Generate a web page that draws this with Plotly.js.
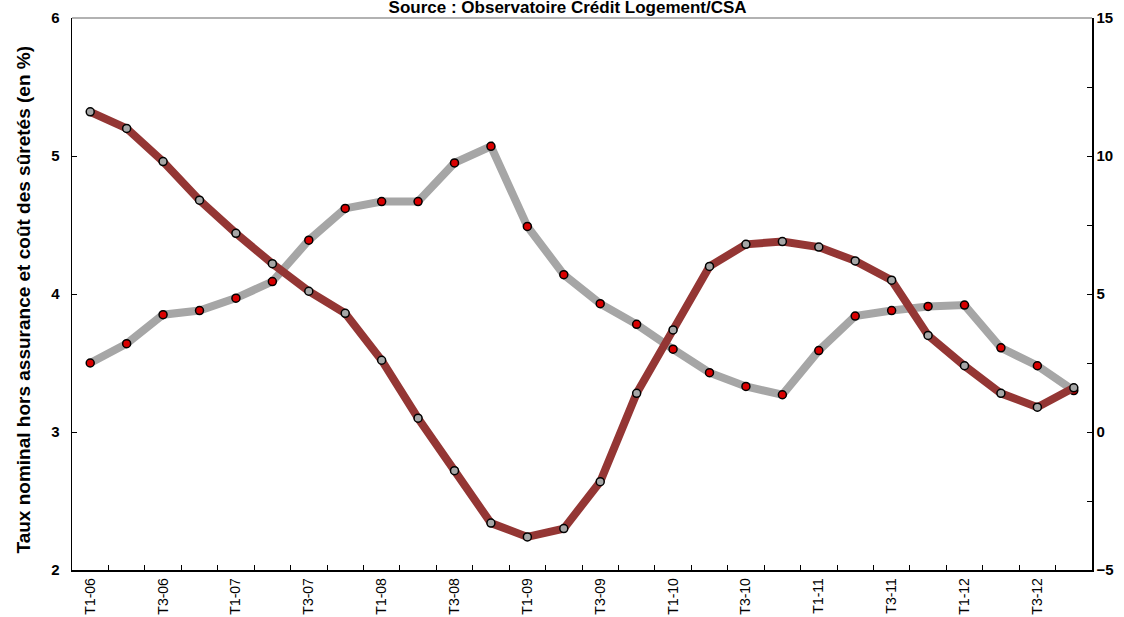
<!DOCTYPE html>
<html>
<head>
<meta charset="utf-8">
<script src="https://cdn.plot.ly/plotly-3.0.1.min.js"></script>
<style>
  html, body { margin: 0; padding: 0; background: #fff; }
  #chart { width: 1124px; height: 617px; }
</style>
</head>
<body>
<div id="chart"></div>
<script>
// Quarterly periods, T1-06 .. T4-12
const quarters = [
  'T1-06','T2-06','T3-06','T4-06',
  'T1-07','T2-07','T3-07','T4-07',
  'T1-08','T2-08','T3-08','T4-08',
  'T1-09','T2-09','T3-09','T4-09',
  'T1-10','T2-10','T3-10','T4-10',
  'T1-11','T2-11','T3-11','T4-11',
  'T1-12','T2-12','T3-12','T4-12'
];

// Only every other quarter carries a visible label
const tickLabels = quarters.map((q, i) => (i % 2 === 0 ? q : ''));

// Nominal rate excluding insurance and guarantee costs (left axis, %)
const tauxNominal = [
  3.50, 3.64, 3.85, 3.88,
  3.97, 4.09, 4.39, 4.62,
  4.67, 4.67, 4.95, 5.07,
  4.49, 4.14, 3.93, 3.78,
  3.60, 3.43, 3.33, 3.27,
  3.59, 3.84, 3.88, 3.91,
  3.92, 3.61, 3.48, 3.30
];

// Second series (right axis)
const serieDroite = [
  11.6, 11.0, 9.8, 8.4,
  7.2, 6.1, 5.1, 4.3,
  2.6, 0.5, -1.4, -3.3,
  -3.8, -3.5, -1.8, 1.4,
  3.7, 6.0, 6.8, 6.9,
  6.7, 6.2, 5.5, 3.5,
  2.4, 1.4, 0.9, 1.6
];

const yTitle = 'Taux nominal hors assurance et coût des sûretés (en %)';

const traces = [
  {
    x: quarters, y: tauxNominal, type: 'scatter', mode: 'lines+markers',
    yaxis: 'y',
    line: { color: '#a6a6a6', width: 8 },
    marker: { size: 8, color: '#d90000', line: { color: '#000', width: 1.5 } },
    hoverinfo: 'x+y'
  },
  {
    x: quarters, y: serieDroite, type: 'scatter', mode: 'lines+markers',
    yaxis: 'y2',
    line: { color: '#943634', width: 8 },
    marker: { size: 8, color: '#a6a6a6', line: { color: '#000', width: 1.5 } },
    hoverinfo: 'x+y'
  }
];

const tickFontBold = { family: 'Liberation Sans Narrow, Liberation Sans, Arial, sans-serif', size: 15, color: '#000', weight: 'bold' };

const layout = {
  width: 1124, height: 617,
  margin: { l: 72, r: 32, t: 18, b: 47 },
  paper_bgcolor: '#fff', plot_bgcolor: '#fff',
  showlegend: false,
  title: {
    text: '<b>Source : Observatoire Crédit Logement/CSA</b>',
    font: { family: 'Liberation Sans, Arial, sans-serif', size: 17, color: '#000' },
    x: 0.505, xref: 'container', xanchor: 'center',
    y: 0.999, yref: 'container', yanchor: 'top'
  },
  xaxis: {
    type: 'category',
    range: [-0.5, quarters.length - 0.5],
    tickmode: 'array', tickvals: quarters, ticktext: tickLabels,
    tickson: 'boundaries',
    ticks: 'inside', ticklen: 5, tickcolor: '#000', tickwidth: 1,
    tickangle: -90,
    ticklabelstandoff: 1,
    tickfont: { family: 'Liberation Sans Narrow, Liberation Sans, Arial, sans-serif', size: 14, color: '#000' },
    showline: true, linecolor: '#000', linewidth: 1.5,
    showgrid: false, zeroline: false, fixedrange: true
  },
  yaxis: {
    range: [2, 6], dtick: 1,
    ticks: 'inside', ticklen: 5, tickcolor: '#000',
    ticklabelstandoff: 8,
    tickfont: tickFontBold,
    showline: true, linecolor: '#000', linewidth: 1.5,
    showgrid: false, zeroline: false, fixedrange: true
  },
  yaxis2: {
    overlaying: 'y', side: 'right',
    range: [-5, 15], dtick: 5,
    ticks: 'inside', ticklen: 5, tickcolor: '#000',
    minor: { dtick: 2.5, ticks: 'inside', ticklen: 5, tickcolor: '#000' },
    tickfont: tickFontBold,
    showline: true, linecolor: '#000', linewidth: 1.5,
    showgrid: false, zeroline: false, fixedrange: true
  },
  annotations: [
    {
      text: '<b>' + yTitle + '</b>', textangle: -90,
      xref: 'paper', yref: 'paper', x: 0, y: 0.49,
      xanchor: 'center', yanchor: 'middle', xshift: -48,
      showarrow: false,
      font: { family: 'Liberation Sans, Arial, sans-serif', size: 19, color: '#000' }
    }
  ],
  shapes: [
    { type: 'line', xref: 'paper', yref: 'paper', x0: 0, x1: 1, y0: 1, y1: 1,
      line: { color: '#999', width: 1.5 } }
  ]
};

Plotly.newPlot('chart', traces, layout, { displayModeBar: false, staticPlot: true });
</script>
</body>
</html>
